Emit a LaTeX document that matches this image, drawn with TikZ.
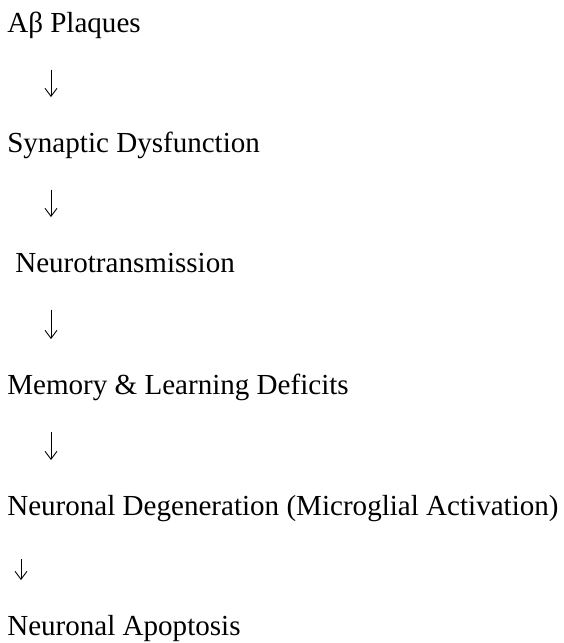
\documentclass[tikz,border=0pt]{standalone}
\usepackage{fontspec}
\setmainfont{Liberation Serif}
\usetikzlibrary{arrows.meta}

\begin{document}
\begin{tikzpicture}[x=0.75pt,y=-0.75pt]
\tikzstyle{fleche}=[-{Straight Barb[length=6pt,width=9pt]},line width=0.7pt,shorten <=23pt,shorten >=26pt]
\tikzset{etape/.style={anchor=base west,inner sep=0pt,text height=15pt,text depth=5pt,
font=\fontsize{21.8}{26}\selectfont}}
\useasboundingbox (0,0) rectangle (564,643);
\coordinate (col) at (51,0);
\coordinate (colB) at (21,0);
\node[etape] (A) at (7,32) {Aβ Plaques};
\node[etape] (A1) at (7,152) {Synaptic Dysfunction};
\node[etape] (A2) at (15,272) {Neurotransmission};
\node[etape] (A3) at (7,394) {Memory \& Learning Deficits};
\node[etape] (A4) at (7,515) {Neuronal Degeneration (Microglial Activation)};
\node[etape] (A5) at (7,635) {Neuronal Apoptosis};

\draw[fleche] (A.south -| col) -- (A1.north -| col);
\draw[fleche] (A1.south -| col) -- (A2.north -| col);
\draw[fleche] (A2.south -| col) -- (A3.north -| col);
\draw[fleche] (A3.south -| col) -- (A4.north -| col);
\draw[fleche,shorten <=28pt] (A4.south -| colB) -- (A5.north -| colB);

\end{tikzpicture}
\end{document}
